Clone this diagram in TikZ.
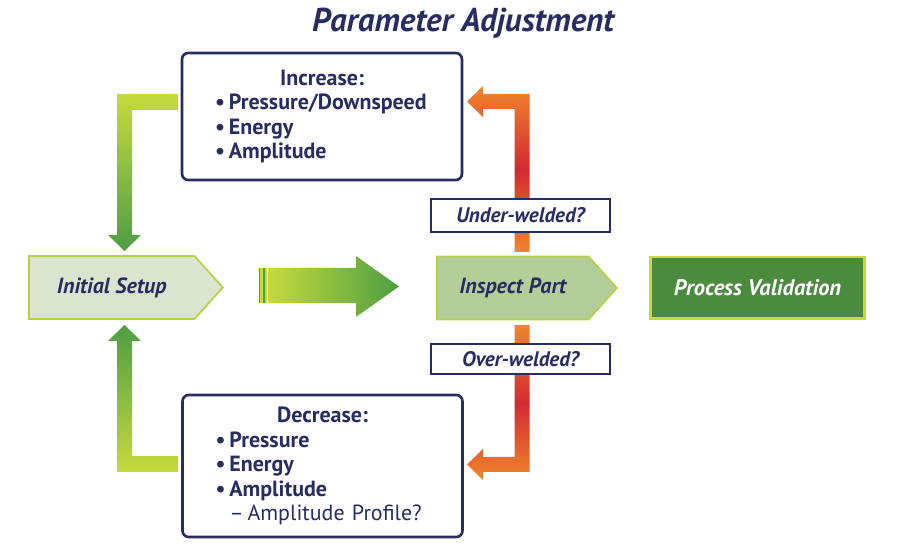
\documentclass[tikz,border=0pt]{standalone}
\usepackage{fontspec}
\setmainfont{PT Sans}
\usetikzlibrary{positioning, shapes.symbols, calc}
\definecolor{myNavy}{HTML}{272C63}
\definecolor{myLime}{HTML}{C6DA3C}
\definecolor{myGreen}{HTML}{4E9E44}
\definecolor{myPale}{HTML}{DAE4CE}
\definecolor{mySage}{HTML}{B4CE9A}
\definecolor{myDark}{HTML}{4B8B3E}
\definecolor{myEdge}{HTML}{B7D046}
\definecolor{myOrange}{HTML}{EE862C}
\definecolor{myRed}{HTML}{D42A30}
\newcommand{\itm}{\makebox[7.9pt][l]{\textbullet}}

\begin{document}
\begin{tikzpicture}[x=0.02cm, y=-0.02cm,
  listbox/.style={draw=myNavy, line width=1.5pt, rounded corners=3.5pt,
                  fill=white, text=myNavy, text width=4.28cm, inner xsep=0.66cm,
                  font=\fontsize{12.5}{14}\selectfont\bfseries},
  askbox/.style={draw=myNavy, line width=1.1pt, fill=white, text=myNavy,
                 minimum width=3.58cm, inner sep=0pt,
                 font=\fontsize{12}{14}\selectfont\bfseries\itshape},
  stepsig/.style={shape=signal, signal to=east, signal pointer angle=96,
                  draw=myEdge, line width=1pt, minimum height=1.26cm,
                  text=myNavy, font=\fontsize{12.5}{14}\selectfont\bfseries\itshape}
]
\useasboundingbox (0,0) rectangle (900,550);

\node[text=myNavy, font=\fontsize{18.8}{20}\selectfont\bfseries\itshape] (title) at (463,23) {Parameter Adjustment};

% block arrows
\shade[top color=myLime, bottom color=myGreen] (178,94) -- (117,94) -- (117,235) -- (108,235)
  -- (124.5,251) -- (141,235) -- (132,235) -- (132,110) -- (178,110) -- cycle;
\shade[top color=myGreen, bottom color=myLime] (178,472) -- (117,472) -- (117,341) -- (108,341)
  -- (124.5,325) -- (141,341) -- (132,341) -- (132,456) -- (178,456) -- cycle;
\shade[left color=myLime, right color=myGreen] (268,268) -- (356,268) -- (356,256) -- (399,286.5)
  -- (356,317) -- (356,303) -- (268,303) -- cycle;
\fill[myLime] (259,268) rectangle (262.5,303);
\fill[myLime] (263.5,268) rectangle (267,303);
\draw[myGreen, line width=0.6pt] (259.5,268) -- (259.5,303) (264,268) -- (264,303);
\shade[top color=myOrange, bottom color=myOrange, middle color=myRed] (514.5,252) -- (514.5,109)
  -- (483,109) -- (483,117) -- (467,101.5) -- (483,86) -- (483,94) -- (529.5,94) -- (529.5,252) -- cycle;
\shade[top color=myOrange, bottom color=myOrange, middle color=myRed] (514.5,325) -- (514.5,457)
  -- (483,457) -- (483,449) -- (467,464.5) -- (483,480) -- (483,472) -- (529.5,472) -- (529.5,325) -- cycle;

% boxes
\node[listbox, minimum height=2.54cm] (inc) at (322,116.5)
  {\centering Increase:\par\raggedright\itm Pressure/Downspeed\\\itm Energy\\\itm Amplitude};
\node[listbox, minimum height=2.84cm] (dec) at (322.5,466)
  {\centering Decrease:\par\raggedright\itm Pressure\\\itm Energy\\\itm Amplitude\\
   \hspace*{7.9pt}{\mdseries –\,Amplitude Profile?}};

\node[stepsig, fill=myPale, minimum width=3.88cm, anchor=west] (setup) at (28,287.5) {Initial Setup};
\node[stepsig, fill=mySage, minimum width=3.6cm, anchor=west] (inspect) at (436,288) {Inspect Part};
\node[draw=myLime, line width=1.7pt, fill=myDark, text=white, minimum width=4.3cm,
      minimum height=1.24cm, font=\fontsize{12.8}{14}\selectfont\bfseries\itshape] (valid) at (757.5,288) {Process Validation};

\node[askbox, minimum height=0.66cm] (under) at (520.5,215.5) {Under-welded?};
\node[askbox, minimum height=0.6cm] (over) at (520.5,359) {Over-welded?};
\end{tikzpicture}
\end{document}
